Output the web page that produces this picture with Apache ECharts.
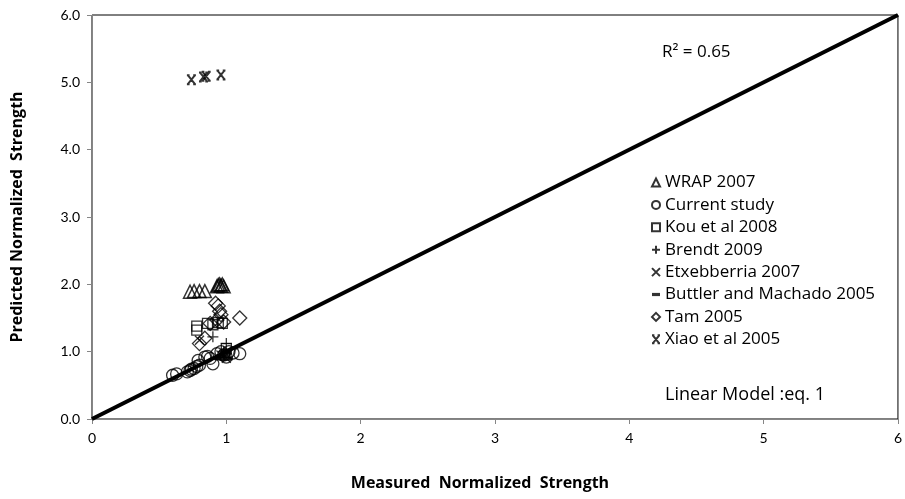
<!DOCTYPE html>
<html>
<head>
<meta charset="utf-8">
<script src="https://cdn.jsdelivr.net/npm/echarts@6/dist/echarts.min.js"></script>
<style>
  html, body { margin: 0; padding: 0; background: #fff; }
  #chart { width: 905px; height: 499px; }
</style>
</head>
<body>
<div id="chart"></div>
<script>
  // tick values of both axes
  var xTicks = [0, 1, 2, 3, 4, 5, 6]
  var yTicks = [0, 1, 2, 3, 4, 5, 6]

  // data: [measured, predicted]
  var wrap2007 = [[0.73, 1.89], [0.76, 1.9], [0.8, 1.9], [0.84, 1.9],
    [0.93, 1.97], [0.94, 1.99], [0.95, 2.0], [0.96, 1.98], [0.97, 2.0], [0.98, 1.97]]
  var currentStudy = [[0.6, 0.65], [0.63, 0.67], [0.71, 0.7], [0.73, 0.72], [0.74, 0.74],
    [0.76, 0.75], [0.78, 0.78], [0.79, 0.87], [0.8, 0.8], [0.84, 0.92], [0.86, 0.93],
    [0.88, 0.9], [0.9, 0.82], [0.93, 0.97], [0.96, 1.0], [0.98, 0.95], [1.0, 0.92],
    [1.02, 1.0], [1.05, 0.98], [1.1, 0.97]]
  var kou2008 = [[0.78, 1.32], [0.78, 1.38], [0.86, 1.42], [0.9, 1.4], [0.94, 1.43],
    [0.97, 1.42], [1.0, 1.05], [0.99, 0.95]]
  var brendt2009 = [[0.9, 1.22], [1.0, 1.12], [0.98, 1.0]]
  var etxebberria2007 = [[0.8, 1.17], [0.96, 0.95], [1.0, 0.9]]
  var buttler2005 = [[0.97, 0.93], [0.99, 0.97], [1.0, 1.02], [1.01, 0.9], [0.95, 0.9]]
  var tam2005 = [[0.8, 1.12], [0.84, 1.2], [0.88, 1.42], [0.92, 1.72], [0.94, 1.68],
    [0.95, 1.6], [0.96, 1.55], [0.93, 1.47], [0.98, 1.44], [1.1, 1.5]]
  var xiao2005 = [[0.74, 5.04], [0.83, 5.08], [0.85, 5.09], [0.96, 5.11]]
  var fitLine = [[0, 0], [6, 6]]

  var font = 'Lato, "Open Sans", sans-serif'
  var wide = '"Open Sans", sans-serif'
  var symX = 'path://M0,0L10,10M10,0L0,10'
  var symPlus = 'path://M5,0L5,10M0,5L10,5'
  var symDash = 'path://M0,0L10,0L10,4L0,4Z'
  var symXiao = 'path://M1,0L9,10M9,0L1,10M0,0L3,0M7,0L10,0M0,10L3,10M7,10L10,10'

  function scatter(name, data, symbol, size, filled, bw) {
    return {
      name: name,
      type: 'scatter',
      data: data,
      symbol: symbol,
      symbolSize: size,
      itemStyle: {
        color: filled ? '#000' : 'rgba(255,255,255,0)',
        borderColor: '#000',
        borderWidth: filled ? 0 : (bw || 1.3)
      },
      z: 3
    }
  }

  var myChart = echarts.init(document.getElementById('chart'))
  var option = {
    animation: false,
    backgroundColor: '#fff',
    grid: {
      left: 92, right: 6, top: 15, bottom: 80,
      show: true,
      borderColor: '#000',
      borderWidth: 1
    },
    legend: {
      orient: 'vertical',
      left: 646,
      top: 169,
      itemGap: 5.4,
      itemWidth: 8,
      itemHeight: 8,
      textStyle: { fontFamily: wide, fontSize: 17, color: '#000', lineHeight: 17 },
      data: ['WRAP 2007', 'Current study', 'Kou et al 2008', 'Brendt 2009',
        'Etxebberria 2007', 'Buttler and Machado 2005', 'Tam 2005', 'Xiao et al 2005']
    },
    xAxis: {
      type: 'value',
      min: 0, max: 6, interval: 1,
      name: 'Measured  Normalized  Strength',
      nameLocation: 'middle',
      nameGap: 56,
      nameTextStyle: { fontFamily: wide, fontSize: 16, fontWeight: 'bold', color: '#000', padding: [0, 30, 0, 0] },
      axisLine: { lineStyle: { color: '#868686', width: 1 } },
      axisTick: { show: true, length: 5, lineStyle: { color: '#868686' } },
      axisLabel: { fontFamily: font, fontSize: 14, color: '#000', margin: 12 },
      splitLine: { show: false }
    },
    yAxis: {
      type: 'value',
      min: 0, max: 6, interval: 1,
      name: 'Predicted Normalized  Strength',
      nameLocation: 'middle',
      nameGap: 67,
      nameTextStyle: { fontFamily: wide, fontSize: 16, fontWeight: 'bold', color: '#000' },
      axisLine: { show: true, lineStyle: { color: '#868686', width: 1 } },
      axisTick: { show: true, length: 5, lineStyle: { color: '#868686' } },
      axisLabel: {
        fontFamily: font, fontSize: 14, color: '#000', margin: 12,
        formatter: function (v) { return v.toFixed(1) }
      },
      splitLine: { show: false }
    },
    graphic: [
      {
        type: 'text', left: 662, top: 44,
        style: { text: 'R² = 0.65', font: '17px ' + wide, fill: '#000' }
      },
      {
        type: 'text', left: 665, top: 386,
        style: { text: 'Linear Model :eq. 1', font: '18px ' + wide, fill: '#000' }
      }
    ],
    series: [
      {
        name: 'fit',
        type: 'line',
        data: fitLine,
        symbol: 'none',
        lineStyle: { color: '#000', width: 4 },
        z: 4
      },
      scatter('WRAP 2007', wrap2007, 'triangle', 13, false, 1.5),
      scatter('Current study', currentStudy, 'circle', 12, false),
      scatter('Kou et al 2008', kou2008, 'rect', 10, false),
      scatter('Brendt 2009', brendt2009, symPlus, 11, false),
      scatter('Etxebberria 2007', etxebberria2007, symX, 9, false),
      scatter('Buttler and Machado 2005', buttler2005, symDash, [10, 4], true),
      scatter('Tam 2005', tam2005, 'diamond', 14, false),
      scatter('Xiao et al 2005', xiao2005, symXiao, 9, false, 2)
    ]
  }
  myChart.setOption(option)
</script>
</body>
</html>
